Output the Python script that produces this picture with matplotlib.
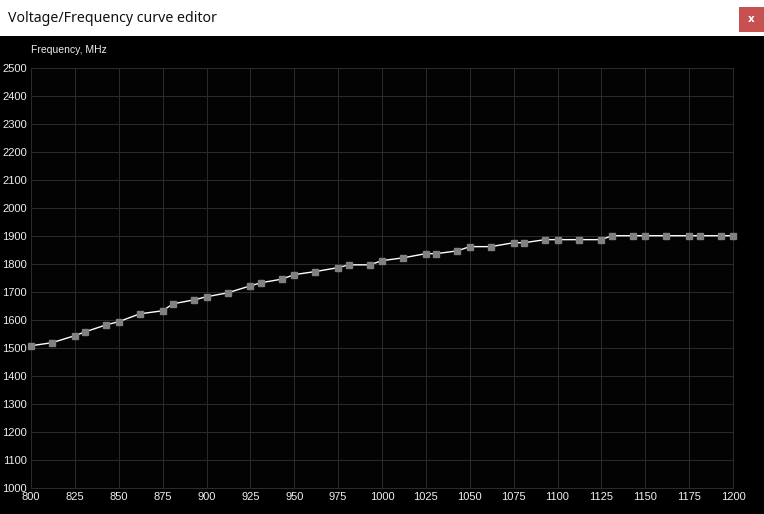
import matplotlib.pyplot as plt
from matplotlib.patches import Rectangle

# voltage points (mV) and frequency (MHz)
voltage = [800, 812, 825, 831, 843, 850, 862, 875, 881, 893, 900, 912, 925, 931,
           943, 950, 962, 975, 981, 993, 1000, 1012, 1025, 1031, 1043, 1050, 1062,
           1075, 1081, 1093, 1100, 1112, 1125, 1131, 1143, 1150, 1162, 1175, 1181,
           1193, 1200]
frequency = [1508, 1519, 1544, 1558, 1583, 1594, 1622, 1633, 1658, 1672, 1683, 1697,
             1722, 1733, 1746, 1762, 1773, 1787, 1797, 1797, 1812, 1822, 1837, 1837,
             1847, 1862, 1862, 1876, 1876, 1887, 1887, 1887, 1887, 1901, 1901, 1901,
             1901, 1901, 1901, 1901, 1901]

x_ticks = list(range(800, 1201, 25))
y_ticks = list(range(1000, 2501, 100))

W, H = 764, 514
fig = plt.figure(figsize=(W / 100, H / 100), dpi=100, facecolor="black")

# ─── Window title bar ────────────────────────────────────────────────────────
fig.patches.append(Rectangle((0, 1 - 36 / H), 1, 36 / H, transform=fig.transFigure,
                             facecolor="white", edgecolor="none", zorder=0))
fig.patches.append(Rectangle((739 / W, 1 - 32 / H), 25 / W, 25 / H,
                             transform=fig.transFigure, facecolor="#c75050",
                             edgecolor="none", zorder=1))
fig.text(751.5 / W, 1 - 19.5 / H, "x", color="white", fontsize=7.5, fontweight="bold",
         ha="center", va="center", family="DejaVu Sans")
fig.text(8 / W, 1 - 18 / H, "Voltage/Frequency curve editor", color="#111111",
         fontsize=10.2, ha="left", va="center", family="Noto Sans")

# ─── Plot area ───────────────────────────────────────────────────────────────
ax = fig.add_axes([31 / W, 26 / H, 702 / W, 420 / H], facecolor="#030303")
ax.plot(voltage, frequency, color="white", linewidth=1.0, zorder=3)
ax.plot(voltage, frequency, linestyle="none", marker="s", markersize=5,
        markerfacecolor="#808080", markeredgecolor="#808080", zorder=4, clip_on=False)

ax.set_xlim(800, 1200)
ax.set_ylim(1000, 2500)
ax.set_xticks(x_ticks)
ax.set_yticks(y_ticks)
ax.grid(True, color="#2a2a2a", linewidth=0.75, snap=True)
ax.set_axisbelow(True)
for s in ax.spines.values():
    s.set_color("#2a2a2a")
    s.set_linewidth(0.75)
ax.tick_params(length=0, colors="#eeeeee", labelsize=8, pad=3)
for lab in ax.get_xticklabels() + ax.get_yticklabels():
    lab.set_family("Liberation Sans")

fig.text(31 / W, 1 - 50 / H, "Frequency, MHz", color="#eeeeee", fontsize=7.5,
         ha="left", va="center", family="Liberation Sans")

fig.savefig("out.png", dpi=100, facecolor="black")
